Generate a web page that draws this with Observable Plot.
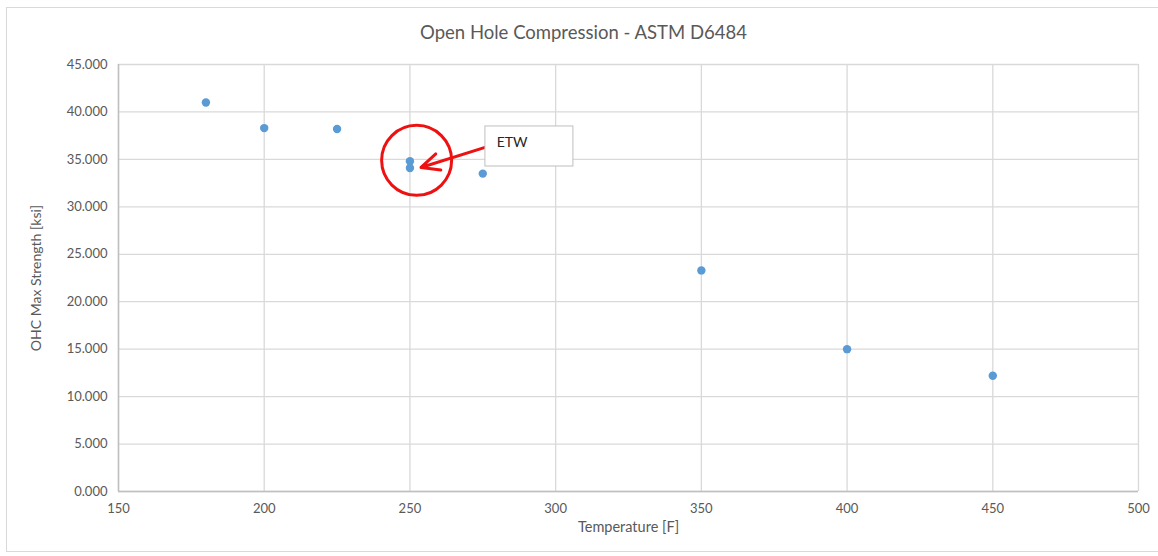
<!DOCTYPE html>
<html>
<head>
<meta charset="utf-8">
<script src="https://cdn.jsdelivr.net/npm/d3@7"></script>
<script src="https://cdn.jsdelivr.net/npm/@observablehq/plot@0.6"></script>
<style>
  html, body { margin: 0; padding: 0; background: #fff; }
  #wrap { position: relative; width: 1158px; height: 556px; overflow: hidden; }
  #border { position: absolute; left: 6px; top: 7px; width: 1160px; height: 545px; border: 1px solid #d9d9d9; box-sizing: border-box; pointer-events: none; }
  #chart { position: absolute; left: 0; top: 0; }
</style>
</head>
<body>
<div id="wrap"><div id="chart"></div><div id="border"></div></div>
<script>
const title = "Open Hole Compression - ASTM D6484";
const xLabel = "Temperature [F]";
const yLabel = "OHC Max Strength [ksi]";

const temperatures = [180, 200, 225, 250, 250, 275, 350, 400, 450];
const strengths    = [41.0, 38.3, 38.2, 34.8, 34.1, 33.5, 23.3, 15.0, 12.2];

const xTicks = [150, 200, 250, 300, 350, 400, 450, 500];
const yTicks = [0, 5, 10, 15, 20, 25, 30, 35, 40, 45];

// annotation (data coordinates)
const noteLabel = ["ETW"];
const noteCircle = [{x: 252.3, y: 34.9}];
const noteBox = [{x1: 275.9, x2: 306.1, y1: 34.25, y2: 38.47}];
const noteArrow = [{x1: 276.6, y1: 36.35, x2: 253.8, y2: 34.15}];

const points = temperatures.map((t, i) => ({t, s: strengths[i]}));

const font = "Lato, 'Open Sans', sans-serif";
const W = 1158, ML = 118, MR = 20;
const plot = Plot.plot({
  width: W,
  height: 556,
  marginLeft: ML,
  marginRight: MR,
  marginTop: 64,
  marginBottom: 65,
  style: {fontFamily: font, fontSize: "13px", color: "#595959", background: "transparent"},
  x: {domain: [150, 500], ticks: xTicks, tickSize: 0, tickPadding: 12, label: null},
  y: {domain: [0, 45], ticks: yTicks, tickSize: 0, tickPadding: 11, tickFormat: d3.format(".3f"), label: null},
  marks: [
    Plot.gridX(xTicks, {stroke: "#d9d9d9", strokeOpacity: 1, strokeWidth: 1.3}),
    Plot.gridY(yTicks, {stroke: "#d9d9d9", strokeOpacity: 1, strokeWidth: 1.3}),
    Plot.ruleY([0], {stroke: "#bfbfbf", strokeWidth: 1.5}),
    Plot.ruleX([150], {stroke: "#bfbfbf", strokeWidth: 1.5}),
    Plot.axisX({ticks: xTicks, tickSize: 0, tickPadding: 12, fill: "#595959", fontSize: 13}),
    Plot.axisY({ticks: yTicks, tickSize: 0, tickPadding: 11, tickFormat: d3.format(".3f"), fill: "#595959", fontSize: 13}),
    Plot.dot(points, {x: "t", y: "s", r: 4.2, fill: "#5b9bd5", stroke: "none"}),
    Plot.dot(noteCircle, {x: "x", y: "y", r: 35, stroke: "#ee1111", strokeWidth: 3, fill: "none"}),
    Plot.arrow(noteArrow, {x1: "x1", y1: "y1", x2: "x2", y2: "y2", stroke: "#ee1111", strokeWidth: 3, headLength: 10, headAngle: 50}),
    Plot.rect(noteBox, {x1: "x1", x2: "x2", y1: "y1", y2: "y2", fill: "white", stroke: "#bfbfbf", strokeWidth: 1}),
    Plot.text(noteLabel, {x: 276, y: 36.8, text: d => d, textAnchor: "start", dx: 11, fontSize: 14, fill: "#262626", fontFamily: font}),
    Plot.text([title], {frameAnchor: "top", dx: (W / 2 + 4) - (ML + (W - ML - MR) / 2), dy: -39, text: d => d, fontSize: 18.5, fill: "#595959", fontFamily: font}),
    Plot.text([xLabel], {frameAnchor: "bottom", dy: 40, text: d => d, fontSize: 14.5, fill: "#595959", fontFamily: font}),
    Plot.text([yLabel], {frameAnchor: "left", dx: -82, rotate: -90, textAnchor: "middle", text: d => d, fontSize: 14, fill: "#595959", fontFamily: font})
  ]
});
document.getElementById("chart").appendChild(plot);
</script>
</body>
</html>
